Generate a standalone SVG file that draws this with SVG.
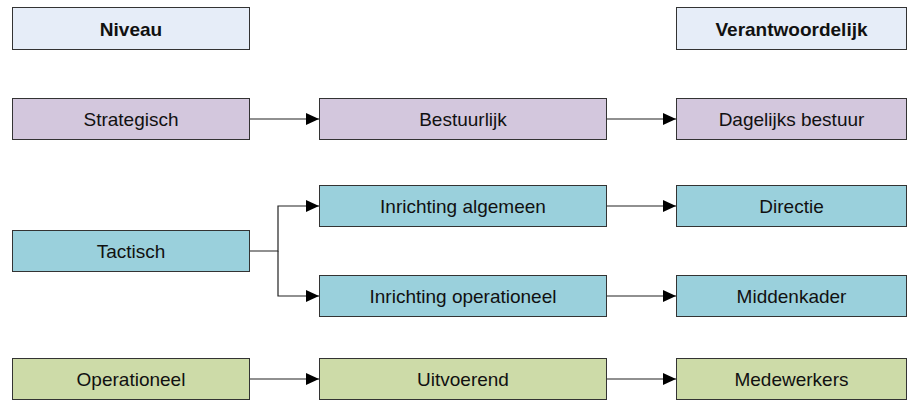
<svg xmlns="http://www.w3.org/2000/svg" width="907" height="400" viewBox="0 0 907 400">
<defs>
<style>
.box{stroke:#333;stroke-width:1}
.hdr{fill:#e6edf8}
.pur{fill:#d3c7dd}
.teal{fill:#9ad0dc}
.grn{fill:#cddba8}
text{font-family:"Liberation Sans",Arial,sans-serif;font-size:19px;fill:#111;text-anchor:middle}
.b{font-weight:bold}
.con{fill:none;stroke:#222;stroke-width:1.2}
</style>
<marker id="arr" viewBox="0 0 13 12" refX="13" refY="6" markerWidth="13" markerHeight="12" markerUnits="userSpaceOnUse" orient="auto">
<path d="M0,0 L13,6 L0,12 Z" fill="#000"/>
</marker>
</defs>
<rect width="907" height="400" fill="#fff"/>
<g id="connectors">
<path class="con" d="M249.5,119 H319" marker-end="url(#arr)"/>
<path class="con" d="M606.5,119 H676" marker-end="url(#arr)"/>
<path class="con" d="M249.5,251 H278 V206 H319" marker-end="url(#arr)"/>
<path class="con" d="M278,251 V296 H319" marker-end="url(#arr)"/>
<path class="con" d="M606.5,206 H676" marker-end="url(#arr)"/>
<path class="con" d="M606.5,296 H676" marker-end="url(#arr)"/>
<path class="con" d="M249.5,379 H319" marker-end="url(#arr)"/>
<path class="con" d="M606.5,379 H676" marker-end="url(#arr)"/>
</g>
<g id="niveau"><rect class="box hdr" x="12.5" y="7.5" width="237" height="42"/><text class="b" x="131" y="35.5">Niveau</text></g>
<g id="verantwoordelijk"><rect class="box hdr" x="676.5" y="7.5" width="230" height="42"/><text class="b" x="791.5" y="35.5">Verantwoordelijk</text></g>
<g id="strategisch"><rect class="box pur" x="12.5" y="98.5" width="237" height="41"/><text x="131" y="125.5">Strategisch</text></g>
<g id="bestuurlijk"><rect class="box pur" x="319.5" y="98.5" width="287" height="41"/><text x="463" y="125.5">Bestuurlijk</text></g>
<g id="dagelijks"><rect class="box pur" x="676.5" y="98.5" width="230" height="41"/><text x="791.5" y="125.5">Dagelijks bestuur</text></g>
<g id="inrichting-algemeen"><rect class="box teal" x="319.5" y="185.5" width="287" height="41"/><text x="463" y="212.5">Inrichting algemeen</text></g>
<g id="directie"><rect class="box teal" x="676.5" y="185.5" width="230" height="41"/><text x="791.5" y="212.5">Directie</text></g>
<g id="tactisch"><rect class="box teal" x="12.5" y="230.5" width="237" height="41"/><text x="131" y="257.5">Tactisch</text></g>
<g id="inrichting-operationeel"><rect class="box teal" x="319.5" y="275.5" width="287" height="41"/><text x="463" y="302.5">Inrichting operationeel</text></g>
<g id="middenkader"><rect class="box teal" x="676.5" y="275.5" width="230" height="41"/><text x="791.5" y="302.5">Middenkader</text></g>
<g id="operationeel"><rect class="box grn" x="12.5" y="358.5" width="237" height="41"/><text x="131" y="385.5">Operationeel</text></g>
<g id="uitvoerend"><rect class="box grn" x="319.5" y="358.5" width="287" height="41"/><text x="463" y="385.5">Uitvoerend</text></g>
<g id="medewerkers"><rect class="box grn" x="676.5" y="358.5" width="230" height="41"/><text x="791.5" y="385.5">Medewerkers</text></g>
</svg>
